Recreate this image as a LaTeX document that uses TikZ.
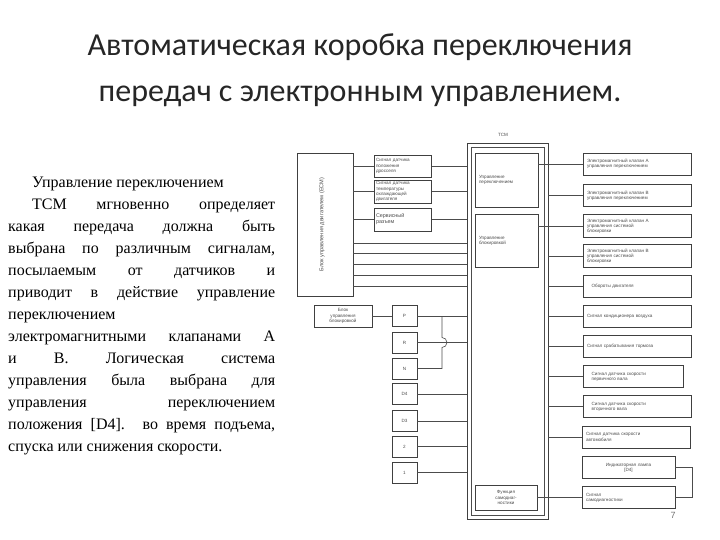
\documentclass[tikz,border=0pt]{standalone}
\usepackage{fontspec}
\setmainfont{Liberation Serif}
\newfontfamily\titlefont{Carlito}
\newfontfamily\boxfont{Liberation Sans}
\begin{document}
\begin{tikzpicture}[x=1pt,y=-1pt,
  wire/.style={draw=black!70,line width=0.6pt},
  blk/.style={draw=black!75,line width=0.7pt,fill=white,inner sep=1.5pt,align=left,
    font=\boxfont\fontsize{4.6}{5.2}\selectfont,text=black!70},
  rbox/.style={blk,text width=#1,minimum height=22pt,inner sep=4pt},
  sw/.style={blk,align=center,minimum width=25pt,minimum height=21pt},
  para/.style={anchor=north west,text width=267pt,align=justify,inner sep=0pt,
    font=\fontsize{16}{22}\selectfont}]
\useasboundingbox (0,0) rectangle (720,540);
% title
\node[font=\titlefont\fontsize{32}{38}\selectfont,text=black!85] (title1) at (360,47) {Автоматическая коробка переключения};
\node[font=\titlefont\fontsize{32}{38}\selectfont,text=black!85] (title2) at (360,96) {передач с электронным управлением.};
% text
\node[para] (txt) at (8,177) {\hspace*{24pt}Управление переключением\\
\hspace*{24pt}ТСМ мгновенно определяет\linebreak какая передача должна быть\linebreak выбрана по различным сигналам,\linebreak посылаемым от датчиков и\linebreak приводит в действие управление\linebreak переключением\\ электромагнитными клапанами А\linebreak и В. Логическая система\linebreak управления была выбрана для\linebreak управления переключением\linebreak положения [D4]. во время подъема,\linebreak спуска или снижения скорости.};
% ECM side
\node[blk,minimum width=56pt,minimum height=143pt] (ecm) at (325,224.5) {};
\node[rotate=90,font=\boxfont\fontsize{5.6}{6}\selectfont,text=black!70] (ecmtxt) at (322,224.5) {Блок управления двигателем (ECM)};
\node[blk,text width=54pt,minimum height=22pt] (s1) at (403,166) {Сигнал датчика\\ положения\\ дросселя};
\node[blk,text width=54pt,minimum height=21pt] (s2) at (403,191.5) {Сигнал датчика\\ температуры\\ охлаждающей\\ двигателя};
\node[blk,text width=54pt,minimum height=23pt,font=\boxfont\fontsize{5.4}{6}\selectfont] (s3) at (403,219.5) {Сервисный\\ разъем};
% TCM
\node[blk,minimum width=81pt,minimum height=376pt] (tcm) at (507.5,331) {};
\node[draw=black!70,line width=0.5pt,minimum width=73pt,minimum height=368pt] (tcmin) at (507.5,331) {};
\node[font=\boxfont\fontsize{4.6}{5}\selectfont,text=black!70] (tcmlbl) at (503,135) {TCM};
\node[blk,minimum width=63pt,minimum height=54pt,text width=55pt] (shift) at (506.5,180) {Управление\\ переключением};
\node[blk,minimum width=63pt,minimum height=53pt,text width=55pt] (lock) at (506.5,240.5) {Управление\\ блокировкой};
\node[blk,align=center,minimum width=62pt,minimum height=25pt] (diag) at (506,497.5) {Функция\\ самодиаг-\\ ностики};
% outputs and inputs
\node[rbox=100pt] (r1) at (637,164) {Электромагнитный клапан A\\ управления переключением};
\node[rbox=100pt] (r2) at (637,195.5) {Электромагнитный клапан B\\ управления переключением};
\node[rbox=100pt] (r3) at (637,226) {Электромагнитный клапан A\\ управления системой\\ блокировки};
\node[rbox=100pt] (r4) at (637,256) {Электромагнитный клапан B\\ управления системой\\ блокировки};
\node[rbox=100pt] (r5) at (637,286) {\quad Обороты двигателя};
\node[rbox=100pt] (r6) at (637,316.5) {Сигнал кондиционера воздуха};
\node[rbox=100pt] (r7) at (637,346.5) {Сигнал срабатывания тормоза};
\node[rbox=92pt] (r8) at (633,376.5) {\quad Сигнал датчика скорости\\ \quad первичного вала};
\node[rbox=100pt] (r9) at (637,406.5) {\quad Сигнал датчика скорости\\ \quad вторичного вала};
\node[rbox=100pt] (r10) at (636,437) {Сигнал датчика скорости\\ автомобиля};
\node[rbox=85pt,align=center] (r11) at (628.5,467.5) {Индикаторная лампа\\ {[D4]}};
\node[rbox=85pt] (r12) at (628.5,497.5) {Сигнал\\ самодиагностики};
% selector
\node[blk,align=center,minimum width=58pt,minimum height=22pt] (blok) at (343,316) {Блок\\ управления\\ блокировкой};
\node[sw] (swP) at (404.5,316) {P};
\node[sw] (swR) at (404.5,342.5) {R};
\node[sw] (swN) at (404.5,368.5) {N};
\node[sw] (swD4) at (404.5,394) {D4};
\node[sw] (swD3) at (404.5,421) {D3};
\node[sw] (sw2) at (404.5,446.5) {2};
\node[sw] (sw1) at (404.5,472.5) {1};
\coordinate (jn) at (442,0);
% wires
\draw[wire] (ecm.east |- s1) -- (s1.west) (s1.east) -- (tcm.west |- s1);
\draw[wire] (ecm.east |- s2) -- (s2.west) (s2.east) -- (tcm.west |- s2);
\draw[wire] (ecm.east |- s3) -- (s3.west) (s3.east) -- (tcm.west |- s3);
\foreach \yy in {243,253,264,275,286}
  \draw[wire] (ecm.east |- 0,\yy) -- (tcm.west |- 0,\yy);
\draw[wire] (shift.east |- r1) -- (r1.west);
\draw[wire] (tcm.east |- r2) -- (r2.west);
\draw[wire] (lock.east |- r3) -- (r3.west);
\foreach \r in {r4,r5,r6,r7,r8,r9,r10}
  \draw[wire] (tcm.east |- \r) -- (\r.west);
\draw[wire] (diag.east |- r12) -- (r12.west);
\draw[wire] (r11.east) -- ++(17,0) |- (r12.east);
\draw[wire] (blok.east) -- (swP.west);
\foreach \s in {swP,swR,swD4,swD3,sw2,sw1}
  \draw[wire] (\s.east) -- (tcm.west |- \s);
\draw[wire] (swN.east) -- (swN.east -| jn) -- ([yshift=-5pt]jn |- swR) arc (90:-90:5) -- (jn |- swP);
% page number
\node[font=\boxfont\fontsize{9}{10}\selectfont,text=black!55] (pgno) at (673,515) {7};
\end{tikzpicture}
\end{document}
